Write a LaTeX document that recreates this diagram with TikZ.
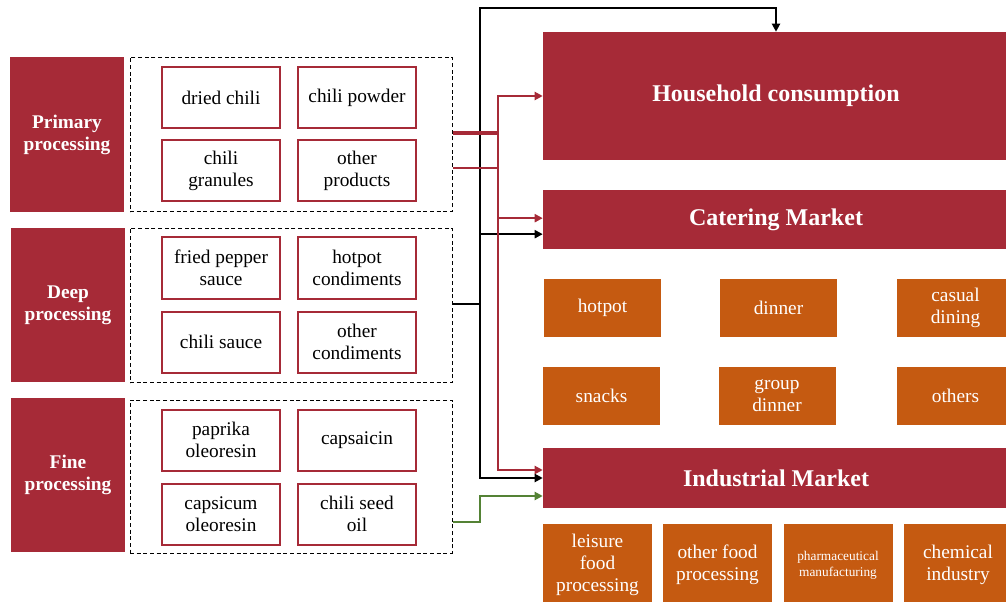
\documentclass[tikz,border=0pt]{standalone}
\usepackage{fontspec}
\setmainfont{Liberation Serif}
\usetikzlibrary{arrows.meta}
\definecolor{chilired}{RGB}{166,42,55}
\definecolor{chiliorange}{RGB}{197,90,17}
\definecolor{chiligreen}{RGB}{84,130,53}

\begin{document}
\begin{tikzpicture}[x=0.75pt,y=-0.75pt,
    stage/.style={fill=chilired,text=white,align=center,inner sep=0pt,
        font=\fontsize{14.5}{16.5}\selectfont\bfseries,
        minimum width=85.5pt,minimum height=116pt},
    group/.style={draw,dash pattern=on 3pt off 2pt,line width=0.75pt,
        minimum width=241.5pt,minimum height=116pt,inner sep=0pt},
    product/.style={draw=chilired,line width=1.5pt,fill=white,align=center,
        font=\fontsize{14.5}{16.5}\selectfont,inner sep=0pt,
        minimum width=88.5pt,minimum height=45.75pt},
    market/.style={fill=chilired,text=white,inner sep=0pt,
        font=\fontsize{18}{20}\selectfont\bfseries,minimum width=349.5pt},
    segment/.style={fill=chiliorange,text=white,align=center,inner sep=0pt,
        font=\fontsize{14.5}{16.5}\selectfont},
    flow/.style={line width=1.8pt},
    arrowed/.style={-{Triangle[length=6pt,width=6pt]}}]

    \useasboundingbox (0,0) rectangle (1006,602);
    \clip (0,0) rectangle (1006,602);

    % processing stages
    \node[stage] (prim) at (67,134.5) {Primary\\processing};
    \node[stage] (deep) at (68,305) {Deep\\processing};
    \node[stage] (fine) at (68,475) {Fine\\processing};

    \node[group] (primbox) at (291,134.5) {};
    \node[group] (deepbox) at (291,305.5) {};
    \node[group,minimum height=114.75pt] (finebox) at (291,476.5) {};

    % products
    \node[product] (dried) at (221,97.5) {dried chili};
    \node[product] (powder) at (357,97.5) {chili powder};
    \node[product] (granules) at (221,171) {chili\\granules};
    \node[product] (otherprod) at (357,171) {other\\products};

    \node[product] (fried) at (221,268) {fried pepper\\sauce};
    \node[product] (hotcond) at (357,268) {hotpot\\condiments};
    \node[product] (sauce) at (221,342) {chili sauce};
    \node[product] (othercond) at (357,342) {other\\condiments};

    \node[product] (paprika) at (221,440) {paprika\\oleoresin};
    \node[product] (capsaicin) at (357,440) {capsaicin};
    \node[product] (capsicum) at (221,514) {capsicum\\oleoresin};
    \node[product] (seedoil) at (357,514) {chili seed\\oil};

    % markets
    \node[market,minimum height=96pt] (house) at (776,96) {Household consumption};
    \node[market,minimum height=44.25pt] (cater) at (776,219.5) {Catering Market};
    \node[market,minimum height=45pt] (indus) at (776,478) {Industrial Market};

    \node[segment,minimum width=87.75pt,minimum height=43.5pt] (hotpot) at (602.5,308) {hotpot};
    \node[segment,minimum width=87.75pt,minimum height=43.5pt] (dinner) at (778.5,308) {dinner};
    \node[segment,minimum width=87.75pt,minimum height=43.5pt] (casual) at (955.5,308) {casual\\dining};
    \node[segment,minimum width=87.75pt,minimum height=43.5pt] (snacks) at (601.5,396) {snacks};
    \node[segment,minimum width=87.75pt,minimum height=43.5pt] (groupdin) at (777,396) {group\\dinner};
    \node[segment,minimum width=87.75pt,minimum height=43.5pt] (others) at (955.5,396) {others};

    \node[segment,minimum width=81.75pt,minimum height=61.5pt] (leisure) at (597.5,565) {leisure\\food\\processing};
    \node[segment,minimum width=81.75pt,minimum height=61.5pt] (otherfood) at (717.5,565) {other food\\processing};
    \node[segment,minimum width=81.75pt,minimum height=61.5pt,font=\fontsize{10}{12}\selectfont] (pharma) at (838,565) {pharmaceutical\\manufacturing};
    \node[segment,minimum width=81.75pt,minimum height=61.5pt] (chemical) at (958,565) {chemical\\industry};

    % connectors
    \coordinate (bbus) at (480,304);
    \coordinate (btop) at (480,8);
    \coordinate (rbus) at (498,133);
    \coordinate (gbend) at (480,522);

    \draw[flow,arrowed] (deepbox.east |- bbus) -- (bbus) -- (btop) -| (house.north);
    \draw[flow,arrowed] (bbus) |- ([yshift=-11pt]cater.west);
    \draw[flow,arrowed] (bbus) |- (indus.west);

    \draw[chilired,line width=2.8pt] (primbox.east |- rbus) -- (rbus);
    \draw[flow,chilired] (primbox.east |- 0,168) -- (rbus |- 0,168);
    \draw[flow,chilired,arrowed] (rbus) |- (house.west);
    \draw[flow,chilired,arrowed] (rbus) |- ([yshift=1pt]cater.west);
    \draw[flow,chilired,arrowed] (rbus) |- ([yshift=6pt]indus.west);

    \draw[flow,chiligreen,arrowed] (finebox.east |- gbend) -- (gbend) |- ([yshift=-13.5pt]indus.west);

\end{tikzpicture}
\end{document}
